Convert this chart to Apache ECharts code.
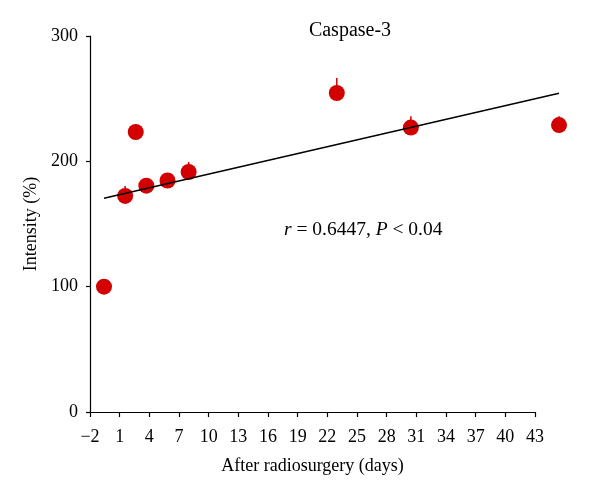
<!DOCTYPE html>
<html>
<head>
<meta charset="utf-8">
<script src="https://cdn.jsdelivr.net/npm/echarts@6/dist/echarts.min.js"></script>
<style>html,body{margin:0;padding:0;background:#fff}#c{width:600px;height:496px}</style>
</head>
<body>
<div id="c"></div>
<script>
// Tick labels printed on the x axis (as in the original figure)
var xTickLabels = ['\u22122','1','4','7','10','13','16','19','22','25','28','31','34','37','40','43'];
// Data: days after radiosurgery, intensity (%), upper error
var days = [-1, 1, 2, 3, 5, 7, 21, 28, 42];
var intensity = [100, 172.4, 223.4, 180.6, 184.7, 191.5, 254.5, 226.9, 228.9];
var errUpper = [3, 8, 0, 6, 6, 8, 12, 9, 7];
// Regression line endpoints
var trendX = [-1, 42];
var trendY = [170.6, 254.3];
// Data-space range of the plotting area
var dataXMin = -2.323, dataXMax = 39.73;
var yTicks = [0, 100, 200, 300];

var FONT = '"Liberation Serif", "DejaVu Serif", serif';
var RED = '#d20000';

var scatterData = days.map(function (d, i) { return [d, intensity[i]]; });
var errData = days.map(function (d, i) { return [d, intensity[i], intensity[i] + errUpper[i]]; });
var trendData = [[trendX[0], trendY[0], trendX[1], trendY[1]]];

var chart = echarts.init(document.getElementById('c'), null, {renderer: 'canvas'});
chart.setOption({
  animation: false,
  backgroundColor: '#fff',
  grid: {left: 90, right: 65, top: 36, bottom: 84},
  xAxis: [{
    type: 'category', data: xTickLabels, boundaryGap: false,
    name: 'After radiosurgery (days)', nameLocation: 'middle', nameGap: 45,
    nameTextStyle: {fontFamily: FONT, fontSize: 18, color: '#000'},
    axisLine: {lineStyle: {color: '#000', width: 1.2}},
    axisTick: {alignWithLabel: true, length: 5, lineStyle: {color: '#000', width: 1.2}},
    axisLabel: {fontFamily: FONT, fontSize: 18, color: '#000', margin: 16, interval: 0},
    splitLine: {show: false}
  }, {
    type: 'value', min: dataXMin, max: dataXMax, show: false, position: 'bottom'
  }],
  yAxis: {
    type: 'value', min: yTicks[0], max: yTicks[yTicks.length - 1], interval: 100,
    name: 'Intensity (%)', nameLocation: 'middle', nameGap: 47,
    nameTextStyle: {fontFamily: FONT, fontSize: 18, color: '#000'},
    axisLine: {show: true, onZero: false, lineStyle: {color: '#000', width: 1.2}},
    axisTick: {show: true, length: 4, lineStyle: {color: '#000', width: 1.2}},
    axisLabel: {fontFamily: FONT, fontSize: 18, color: '#000', margin: 12},
    splitLine: {show: false}
  },
  graphic: [{
    type: 'text', x: 350, y: 31,
    style: {
      text: 'Caspase-3', font: '20px ' + FONT, fill: '#000',
      align: 'center', verticalAlign: 'middle'
    }
  }, {
    type: 'text', left: 284, top: 220,
    style: {
      text: '{i|r} = 0.6447, {i|P} < 0.04',
      rich: {i: {fontStyle: 'italic', fontFamily: FONT, fontSize: 19.5, fill: '#000'}},
      font: '19.5px ' + FONT, fill: '#000'
    }
  }],
  series: [{
    type: 'custom', xAxisIndex: 1, clip: false, z: 2,
    renderItem: function (params, api) {
      var p0 = api.coord([api.value(0), api.value(1)]);
      var p1 = api.coord([api.value(0), api.value(2)]);
      return {type: 'line', shape: {x1: p0[0], y1: p0[1], x2: p1[0], y2: p1[1]},
              style: {stroke: RED, lineWidth: 1.5}};
    },
    data: errData
  }, {
    type: 'scatter', xAxisIndex: 1, clip: false, z: 3,
    symbol: 'circle', symbolSize: 16,
    itemStyle: {color: RED, opacity: 1},
    data: scatterData
  }, {
    type: 'custom', xAxisIndex: 1, clip: false, z: 4,
    renderItem: function (params, api) {
      var p0 = api.coord([api.value(0), api.value(1)]);
      var p1 = api.coord([api.value(2), api.value(3)]);
      return {type: 'line', shape: {x1: p0[0], y1: p0[1], x2: p1[0], y2: p1[1]},
              style: {stroke: '#000', lineWidth: 1.5}};
    },
    data: trendData
  }]
});
</script>
</body>
</html>
